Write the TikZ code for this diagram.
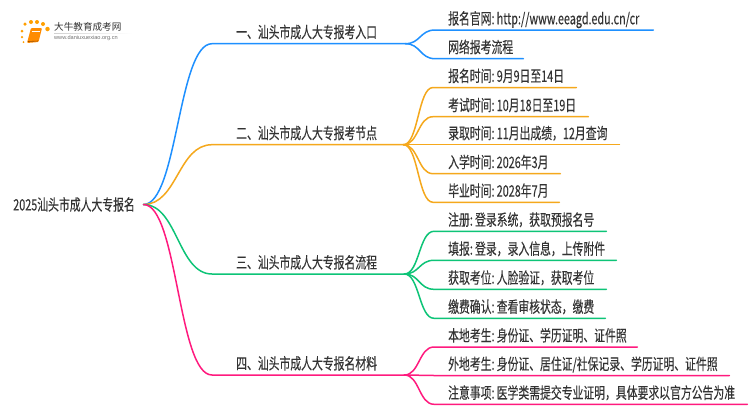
\documentclass[tikz,border=0pt]{standalone}
\usepackage{fontspec}
\usetikzlibrary{calc}
\setmainfont[FakeStretch=0.69,FakeBold=0.15]{Noto Sans CJK SC}
\newfontfamily\logocjk{Noto Sans CJK SC}
\newfontfamily\logolat{Liberation Sans}
\newcommand{\fwc}{\char"FF0C\relax}
\newcommand{\clb}{:\hspace{2.2pt}}
\definecolor{cblue}{HTML}{1E90FF}
\definecolor{corange}{HTML}{F5A81C}
\definecolor{cgreen}{HTML}{0DC477}
\definecolor{cpink}{HTML}{FF1A7E}
\definecolor{ctext}{HTML}{333333}
\tikzset{
  mmline/.style={line width=1.5pt,line cap=round,line join=round},
  mmtext/.style={anchor=south west,inner sep=0pt,text=ctext,text depth=5.5pt,text height=12pt,font=\fontsize{15.7}{16}\selectfont},
  logodot/.style={circle,fill=#1,draw=none,inner sep=0pt,minimum size=4pt},
}
% name, x1, y, x2, indent, text
\newcommand{\mmlabel}[6]{%
  \pgfmathsetmacro{\mmw}{#4-#2}%
  \node[mmtext,text width=\mmw pt] (#1) at (#2,#3) {\hspace*{#5pt}\makebox[0pt][l]{#6}};%
}
% from, to, colour, half-width of curve
\newcommand{\mmlink}[4]{%
  \draw[mmline,#3] (#1) .. controls +(#4,0) and ($(#2.south west)+(-#4,0)$) .. (#2.south west) -- (#2.south east);%
}
\begin{document}
\begin{tikzpicture}[x=1pt,y=-1pt]
\useasboundingbox (0,0) rectangle (750,410);
\fill[white] (0,0) rectangle (750,410);

% logo
\foreach \nn/\px/\py/\ss in {a/22/37/2.5,b/22/31/3,c/25/24/3.5,d/31/22/4,e/37/22/4,f/43/24/4,g/47.5/29/4.5,h/23.5/42/2}{
  \node[logodot=orange!75!yellow,minimum size=\ss pt] (dot\nn) at (\px,\py) {};
}
\fill[orange!90!yellow,rounded corners=1pt] (31,28) -- (42,28) -- (38.5,42) -- (27,43) -- cycle;
\draw[white,line width=.5pt] (31.5,31) -- (40,31);
\draw[orange!60!black,line width=.6pt] (28,41.5) -- (38,41);
\node[inner sep=0pt,anchor=west,text=ctext,font=\logocjk\fontsize{9.6}{10}\selectfont] (logoa) at (54,27) {大牛教育成考网};
\node[inner sep=0pt,anchor=west,text=black!55,font=\logolat\fontsize{5.6}{6}\selectfont] (logob) at (54,38.5) {www.daniuxuexiao.org.cn};
\shade[left color=black!18,right color=white] (54,33) rectangle (132,33.6);

% root
\node[inner sep=0pt,anchor=east,text=ctext,font=\fontsize{15.7}{16}\selectfont] (root) at (143.5,204.5) {2025汕头市成人大专报名\hspace*{8.5pt}};

% branches
\mmlabel{b1}{212}{43.7}{405}{24}{一、汕头市成人大专报考入口}
\mmlabel{b2}{212}{144.7}{403}{24}{二、汕头市成人大专报考节点}
\mmlabel{b3}{212}{274}{404}{24}{三、汕头市成人大专报名流程}
\mmlabel{b4}{212}{375}{404}{24}{四、汕头市成人大专报名材料}

% leaves
\mmlabel{l11}{435}{30}{653}{13}{报名官网\clb http://www.eeagd.edu.cn/cr}
\mmlabel{l12}{435}{58.7}{523}{13}{网络报考流程}
\mmlabel{l21}{433}{87.5}{576}{15}{报名时间\clb 9月9日至14日}
\mmlabel{l22}{433}{116.7}{588}{15}{考试时间\clb 10月18日至19日}
\mmlabel{l23}{433}{144.7}{619}{15}{录取时间\clb 11月出成绩\fwc 12月查询}
\mmlabel{l24}{433}{173.7}{560}{15}{入学时间\clb 2026年3月}
\mmlabel{l25}{433}{202.3}{559}{15}{毕业时间\clb 2028年7月}
\mmlabel{l31}{434}{231.3}{606}{14}{注册\clb 登录系统\fwc 获取预报名号}
\mmlabel{l32}{434}{260.3}{616}{14}{填报\clb 登录\fwc 录入信息\fwc 上传附件}
\mmlabel{l33}{434}{289.3}{606}{14}{获取考位\clb 人脸验证\fwc 获取考位}
\mmlabel{l34}{434}{318.3}{605}{14}{缴费确认\clb 查看审核状态\fwc 缴费}
\mmlabel{l41}{434}{347}{637}{14}{本地考生\clb 身份证、学历证明、证件照}
\mmlabel{l42}{434}{375.5}{729}{14}{外地考生\clb 身份证、居住证/社保记录、学历证明、证件照}
\mmlabel{l43}{434}{404.3}{747}{14}{注意事项\clb 医学类需提交专业证明\fwc 具体要求以官方公告为准}

% connectors
\mmlink{root.east}{b1}{cblue}{34}
\mmlink{root.east}{b2}{corange}{34}
\mmlink{root.east}{b3}{cgreen}{34}
\mmlink{root.east}{b4}{cpink}{34}
\mmlink{b1.south east}{l11}{cblue}{15}
\mmlink{b1.south east}{l12}{cblue}{15}
\foreach \k in {1,...,5}{\mmlink{b2.south east}{l2\k}{corange}{15}}
\foreach \k in {1,...,4}{\mmlink{b3.south east}{l3\k}{cgreen}{15}}
\foreach \k in {1,2,3}{\mmlink{b4.south east}{l4\k}{cpink}{15}}
\end{tikzpicture}
\end{document}
